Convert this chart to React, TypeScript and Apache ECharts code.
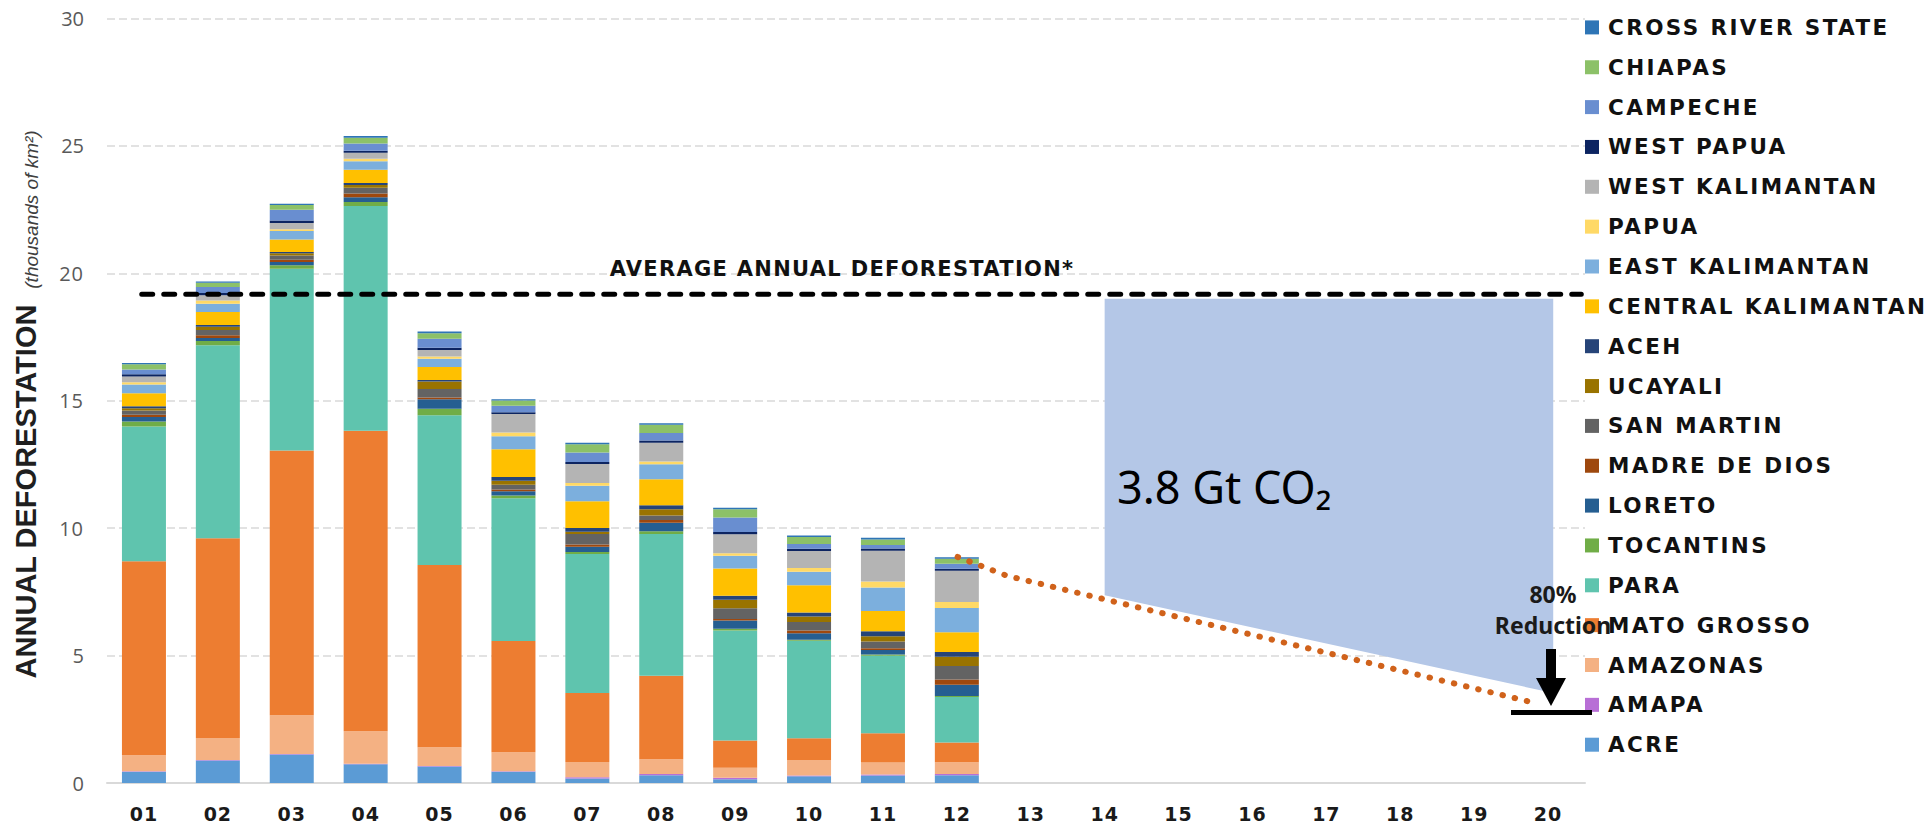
import React, { useEffect, useRef } from "react";
import * as echarts from "echarts";

// ---------------- DATA ----------------
const CATEGORIES = ["01", "02", "03", "04", "05", "06", "07", "08", "09", "10", "11", "12", "13", "14", "15", "16", "17", "18", "19", "20"];

const Y_MIN = 0;
const Y_MAX = 30;
const Y_INTERVAL = 5;

// stacked from bottom to top (thousands of km²)
const ACRE = [0.44, 0.88, 1.12, 0.74, 0.65, 0.44, 0.18, 0.30, 0.15, 0.26, 0.29, 0.30];
const AMAPA = [0.02, 0.02, 0.02, 0.02, 0.02, 0.02, 0.05, 0.05, 0.06, 0.03, 0.04, 0.05];
const AMAZONAS = [0.63, 0.87, 1.52, 1.27, 0.73, 0.75, 0.59, 0.58, 0.39, 0.61, 0.47, 0.46];
const MATO_GROSSO = [7.61, 7.83, 10.39, 11.79, 7.15, 4.36, 2.71, 3.28, 1.07, 0.86, 1.15, 0.78];
const PARA = [5.29, 7.58, 7.13, 8.82, 5.88, 5.60, 5.46, 5.56, 4.31, 3.82, 3.04, 1.78];
const TOCANTINS = [0.20, 0.16, 0.14, 0.16, 0.26, 0.11, 0.07, 0.11, 0.07, 0.04, 0.05, 0.04];
const LORETO = [0.17, 0.12, 0.12, 0.19, 0.37, 0.17, 0.21, 0.33, 0.33, 0.26, 0.18, 0.45];
const MADRE_DE_DIOS = [0.09, 0.11, 0.09, 0.14, 0.07, 0.07, 0.09, 0.11, 0.06, 0.10, 0.07, 0.20];
const SAN_MARTIN = [0.17, 0.21, 0.17, 0.23, 0.33, 0.18, 0.41, 0.18, 0.42, 0.34, 0.26, 0.53];
const UCAYALI = [0.09, 0.12, 0.09, 0.11, 0.30, 0.16, 0.09, 0.24, 0.33, 0.21, 0.21, 0.36];
const ACEH = [0.07, 0.07, 0.05, 0.07, 0.05, 0.15, 0.15, 0.16, 0.16, 0.16, 0.19, 0.19];
const CENTRAL_KALIMANTAN = [0.51, 0.51, 0.49, 0.52, 0.51, 1.09, 1.05, 1.02, 1.07, 1.07, 0.80, 0.78];
const EAST_KALIMANTAN = [0.35, 0.33, 0.33, 0.34, 0.33, 0.51, 0.60, 0.59, 0.50, 0.53, 0.92, 0.95];
const PAPUA = [0.09, 0.12, 0.07, 0.10, 0.09, 0.14, 0.11, 0.11, 0.10, 0.15, 0.24, 0.23];
const WEST_KALIMANTAN = [0.22, 0.21, 0.25, 0.23, 0.25, 0.73, 0.75, 0.73, 0.74, 0.66, 1.20, 1.23];
const WEST_PAPUA = [0.09, 0.09, 0.09, 0.08, 0.09, 0.07, 0.08, 0.09, 0.09, 0.09, 0.09, 0.08];
const CAMPECHE = [0.19, 0.23, 0.43, 0.28, 0.35, 0.25, 0.37, 0.29, 0.57, 0.19, 0.14, 0.19];
const CHIAPAS = [0.20, 0.17, 0.18, 0.23, 0.22, 0.21, 0.32, 0.33, 0.32, 0.27, 0.22, 0.20];
const CROSS_RIVER_STATE = [0.05, 0.05, 0.05, 0.07, 0.07, 0.05, 0.06, 0.06, 0.06, 0.06, 0.06, 0.06];

const REGION_NAMES = [
  "ACRE", "AMAPA", "AMAZONAS", "MATO GROSSO", "PARA", "TOCANTINS", "LORETO", "MADRE DE DIOS",
  "SAN MARTIN", "UCAYALI", "ACEH", "CENTRAL KALIMANTAN", "EAST KALIMANTAN", "PAPUA",
  "WEST KALIMANTAN", "WEST PAPUA", "CAMPECHE", "CHIAPAS", "CROSS RIVER STATE",
];
const REGION_VALUES = [
  ACRE, AMAPA, AMAZONAS, MATO_GROSSO, PARA, TOCANTINS, LORETO, MADRE_DE_DIOS,
  SAN_MARTIN, UCAYALI, ACEH, CENTRAL_KALIMANTAN, EAST_KALIMANTAN, PAPUA,
  WEST_KALIMANTAN, WEST_PAPUA, CAMPECHE, CHIAPAS, CROSS_RIVER_STATE,
];
const REGION_COLORS = [
  "#5B9BD5", "#B86FD6", "#F4B183", "#ED7D31", "#5FC4AE", "#70AD47", "#255E91", "#9E480E",
  "#636363", "#997300", "#264478", "#FFC000", "#7CAFDD", "#FFD966",
  "#B4B4B4", "#0C2461", "#698ED0", "#8CC168", "#2E75B6",
];

// annotation data (x in category units: category i centred at i - 0.5)
const AVG_VALUE = 19.18;
const AVG_X = [0.47, 19.95];
const PROJ_X = [11.51, 12.18, 19.34];
const PROJ_Y = [8.87, 8.13, 3.13];
const AREA_X = [13.5, 19.57, 19.57, 13.5];
const AREA_Y = [19.0, 19.0, 3.53, 7.37];

const AVG_LABEL = "AVERAGE ANNUAL DEFORESTATION*";

export default function App() {
  const ref = useRef<HTMLDivElement>(null);

  useEffect(() => {
    if (!ref.current) return;
    const chart = echarts.init(ref.current, undefined, { renderer: "svg" });

    const barSeries = REGION_NAMES.map((name, i) => ({
      name,
      type: "bar",
      stack: "defor",
      xAxisIndex: 0,
      yAxisIndex: 0,
      barWidth: 44,
      data: REGION_VALUES[i],
      itemStyle: { color: REGION_COLORS[i] },
      silent: true,
      z: 2,
    }));

    const option: any = {
      animation: false,
      backgroundColor: "#ffffff",
      grid: {
        left: 107,
        right: 346,
        top: 18.5,
        bottom: 44,
        containLabel: false,
        outerBoundsMode: "none",
      },
      legend: {
        orient: "vertical",
        left: 1585,
        top: 16.4,
        padding: 0,
        itemWidth: 14,
        itemHeight: 14,
        itemGap: 17.85,
        icon: "rect",
        selectedMode: false,
        data: REGION_NAMES.slice().reverse(),
        textStyle: {
          fontFamily: "DejaVu Sans",
          fontWeight: "bold",
          fontSize: 21.5,
          lineHeight: 21,
          color: "#111111",
          padding: [0, 0, 0, 4],
        },
      },
      xAxis: [
        {
          type: "category",
          data: CATEGORIES,
          axisLine: { show: true, lineStyle: { color: "#D9D9D9", width: 2 } },
          axisTick: { show: false },
          axisLabel: {
            margin: 21,
            fontFamily: "DejaVu Sans",
            fontWeight: "bold",
            fontSize: 19,
            color: "#1a1a1a",
            interval: 0,
          },
          splitLine: { show: false },
        },
        {
          type: "value",
          min: 0,
          max: 20,
          show: false,
          position: "bottom",
        },
      ],
      yAxis: {
        type: "value",
        min: Y_MIN,
        max: Y_MAX,
        interval: Y_INTERVAL,
        axisLine: { show: false },
        axisTick: { show: false },
        axisLabel: {
          margin: 23,
          fontFamily: "Open Sans",
          fontSize: 20,
          color: "#595959",
        },
        splitLine: {
          show: true,
          lineStyle: { color: "#D9D9D9", width: 1.5, type: [8, 4] },
        },
      },
      series: [
        {
          name: "co2area",
          type: "custom",
          xAxisIndex: 1,
          yAxisIndex: 0,
          silent: true,
          z: 1,
          data: [[AREA_X[0], AREA_Y[0]]],
          renderItem: (_params: any, api: any) => {
            const points = AREA_X.map((x, i) => api.coord([x, AREA_Y[i]]));
            return {
              type: "polygon",
              shape: { points },
              style: { fill: "#B4C7E7" },
            };
          },
        },
        ...barSeries,
        {
          name: "average",
          type: "line",
          xAxisIndex: 1,
          yAxisIndex: 0,
          silent: true,
          symbol: "none",
          z: 5,
          data: AVG_X.map((x) => [x, AVG_VALUE]),
          lineStyle: { color: "#000000", width: 5, type: [11, 11], cap: "round" },
        },
        {
          name: "projection",
          type: "line",
          xAxisIndex: 1,
          yAxisIndex: 0,
          silent: true,
          symbol: "none",
          z: 5,
          data: PROJ_X.map((x, i) => [x, PROJ_Y[i]]),
          lineStyle: { color: "#D0621B", width: 6, type: [0.5, 12], cap: "round" },
        },
      ],
      graphic: [
        {
          type: "text",
          z: 100,
          x: 26,
          y: 491.5,
          rotation: Math.PI / 2,
          style: {
            text: "ANNUAL DEFORESTATION",
            fontFamily: "Liberation Sans",
            fontWeight: "bold",
            fontSize: 29,
            fill: "#1f1f1f",
            align: "center",
            verticalAlign: "middle",
          },
        },
        {
          type: "text",
          z: 100,
          x: 31,
          y: 209.5,
          rotation: Math.PI / 2,
          style: {
            text: "(thousands of km²)",
            fontFamily: "Liberation Sans",
            fontStyle: "italic",
            fontSize: 19,
            fill: "#404040",
            align: "center",
            verticalAlign: "middle",
          },
        },
        {
          type: "text",
          z: 100,
          x: 842,
          y: 269,
          style: {
            text: AVG_LABEL,
            fontFamily: "DejaVu Sans",
            fontWeight: "bold",
            fontSize: 21,
            fill: "#111111",
            align: "center",
            verticalAlign: "middle",
          },
        },
        {
          type: "text",
          z: 100,
          x: 1117,
          y: 486,
          style: {
            text: "3.8 Gt CO₂",
            fontFamily: "Noto Sans",
            fontSize: 45,
            fill: "#000000",
            align: "left",
            verticalAlign: "middle",
          },
        },
        {
          type: "text",
          z: 100,
          x: 1553,
          y: 594,
          style: {
            text: "80%",
            fontFamily: "Noto Sans",
            fontWeight: "bold",
            fontSize: 23,
            fill: "#1a1a1a",
            align: "center",
            verticalAlign: "middle",
          },
        },
        {
          type: "text",
          z: 100,
          x: 1553,
          y: 625,
          style: {
            text: "Reduction",
            fontFamily: "Noto Sans",
            fontWeight: "bold",
            fontSize: 23,
            fill: "#1a1a1a",
            align: "center",
            verticalAlign: "middle",
          },
        },
        {
          type: "rect",
          z: 100,
          shape: { x: 1546, y: 649, width: 10, height: 31 },
          style: { fill: "#000000" },
        },
        {
          type: "polygon",
          z: 100,
          shape: { points: [[1536, 678], [1566, 678], [1551, 706]] },
          style: { fill: "#000000" },
        },
        {
          type: "rect",
          z: 100,
          shape: { x: 1511, y: 710, width: 81, height: 5 },
          style: { fill: "#000000" },
        },
      ],
    };

    chart.setOption(option);

    // letter-spaced caps as in the original (legend and average label)
    const spaced: Record<string, string> = {};
    REGION_NAMES.forEach((n) => (spaced[n] = "2.4px"));
    spaced[AVG_LABEL] = "1.3px";
    CATEGORIES.forEach((c) => (spaced[c] = "1px"));
    const applySpacing = () => {
      const root = ref.current;
      if (!root) return;
      root.querySelectorAll("text").forEach((t) => {
        const s = spaced[t.textContent || ""];
        if (s) t.setAttribute("letter-spacing", s);
      });
    };
    applySpacing();
    chart.on("finished", applySpacing);

    return () => {
      chart.dispose();
    };
  }, []);

  return (
    <div
      ref={ref}
      style={{ position: "fixed", left: 0, top: 0, width: 1931, height: 827, background: "#fff" }}
    />
  );
}
